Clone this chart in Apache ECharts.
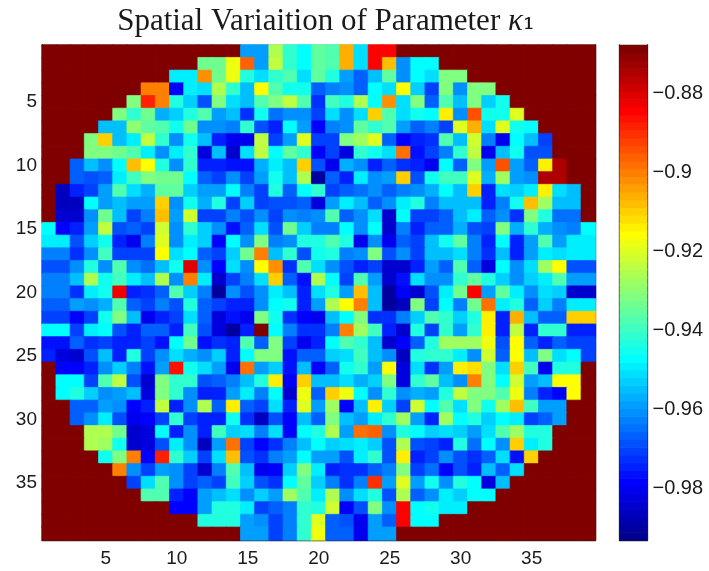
<!DOCTYPE html>
<html>
<head>
<meta charset="utf-8">
<script src="https://cdn.jsdelivr.net/npm/echarts@6/dist/echarts.min.js"></script>
<style>html,body{margin:0;padding:0;background:#fff}#c{width:709px;height:571px}</style>
</head>
<body>
<div id="c"></div>
<script>
// Cell values in thousandths of -1 (955 means -0.955), listed from the first column inside the disc.
const row01=[958,958,925,941,947,935,937,905,951,884,884];
const row02=[934,934,918,897,958,924,941,947,935,937,905,951,884,907,960,947,947];
const row03=[949,949,902,934,917,943,950,941,938,951,935,944,958,966,955,936,960,947,951,931,931];
const row04=[901,901,979,948,951,926,942,955,915,938,945,945,966,963,960,966,947,951,915,953,971,931,960,931,931];
const row05=[931,888,901,943,953,969,931,950,955,938,932,924,938,973,940,944,926,946,902,951,932,967,937,955,931,953,945];
const row06=[931,941,933,956,953,944,937,958,955,973,945,964,961,960,971,951,961,951,909,937,951,945,947,913,960,894,945,945,919];
const row07=[955,955,930,936,938,945,933,961,961,963,942,968,974,947,958,979,963,960,936,942,938,959,967,963,970,919,905,951,919,945,947];
const row08=[931,909,955,949,924,941,961,945,955,975,980,980,924,970,958,920,970,971,932,927,919,966,979,975,973,938,955,922,963,981,947,955,970];
const row09=[931,931,934,937,948,960,948,941,982,955,985,951,924,947,936,941,979,970,982,942,945,951,899,977,970,963,941,924,981,955,945,968,968];
const row10=[967,955,960,947,907,915,944,961,941,974,975,977,977,956,949,955,909,968,980,956,961,975,967,973,975,980,947,966,932,959,894,959,967,913,875];
const row11=[967,968,966,949,940,931,933,933,947,967,970,960,970,958,945,955,926,989,966,974,948,960,958,909,968,945,940,940,919,956,927,959,961,875,875];
const row12=[987,975,970,959,938,951,956,936,936,953,958,958,947,963,971,943,966,947,941,970,967,964,961,966,963,960,956,947,955,909,974,951,953,948,913,951,955];
const row13=[986,986,947,959,955,958,958,909,960,945,956,944,970,952,970,969,969,967,983,958,948,955,967,961,948,944,963,955,955,955,975,963,945,907,927,955,955];
const row14=[985,985,960,933,955,971,963,907,958,922,970,971,963,968,960,970,960,963,960,938,967,960,951,984,947,970,970,966,955,948,966,960,973,932,944,964,964];
const row15=[947,979,975,958,924,968,966,970,922,961,941,952,961,977,966,950,968,933,953,963,963,947,961,947,984,963,975,966,966,956,968,970,931,956,942,956,961,963,947];
const row16=[948,948,968,953,945,974,980,963,919,960,948,952,978,947,961,931,963,960,944,944,937,944,980,960,980,967,970,955,945,935,963,974,947,974,959,938,958,948,948];
const row17=[963,963,973,961,940,971,971,971,915,950,947,967,970,953,933,900,955,942,968,945,944,963,960,931,968,960,970,955,955,951,963,973,955,975,958,948,951,949,949];
const row18=[969,969,960,944,960,937,960,964,955,945,880,960,979,951,961,916,902,973,938,950,960,969,974,970,984,984,974,959,967,938,966,982,947,960,950,927,915,968,968];
const row19=[963,963,955,926,945,940,948,955,925,961,901,948,985,970,963,951,909,967,977,926,947,970,937,959,984,977,950,961,961,941,936,944,953,961,952,949,938,958,958];
const row20=[963,963,973,948,945,882,975,973,966,938,952,963,990,960,969,960,948,955,975,951,944,958,907,955,990,979,985,968,948,933,885,959,936,948,960,950,953,985,985];
const row21=[966,966,958,960,956,938,966,970,963,968,944,967,971,975,975,960,947,945,975,958,925,916,900,955,990,986,931,971,947,963,933,899,948,944,967,952,963,948,948];
const row22=[971,971,979,971,945,931,955,980,975,971,951,966,982,977,980,932,945,973,978,981,955,947,931,973,973,963,953,938,942,952,944,913,974,905,955,966,966,909,909];
const row23=[947,947,970,949,947,969,975,967,966,974,940,969,982,989,974,868,947,963,973,973,963,900,927,940,974,984,944,971,941,958,942,914,974,924,975,941,941,975,975];
const row24=[977,977,967,973,971,975,975,971,977,947,933,977,973,974,937,966,932,971,981,974,947,938,942,955,985,979,967,944,927,928,928,917,969,915,966,975,967,971,971];
const row25=[975,982,985,969,955,974,944,971,961,951,956,961,952,974,947,931,931,977,966,966,953,951,940,955,960,987,944,941,942,948,961,921,966,915,955,931,951,947,971];
const row26=[979,979,975,961,952,963,977,959,887,945,950,959,981,899,959,952,977,955,978,967,945,942,959,915,983,950,973,958,913,911,931,951,910,940,980,944,944];
const row27=[947,947,971,938,924,969,985,931,941,941,969,966,963,955,944,913,978,909,955,955,950,956,952,932,983,941,935,955,961,901,931,947,921,959,955,915,915];
const row28=[947,944,952,961,958,955,982,931,941,961,974,974,959,949,963,947,985,917,967,909,917,947,961,941,960,956,958,943,924,931,931,938,917,963,974,979,915];
const row29=[967,967,958,961,979,974,924,974,960,925,967,913,966,970,950,975,919,958,927,979,955,913,952,971,921,947,938,951,932,945,927,907,940,959,959];
const row30=[967,961,949,969,980,978,970,942,971,974,974,945,973,987,969,979,955,967,932,955,959,948,941,927,958,975,927,947,943,953,947,948,971,966,959];
const row31=[925,925,933,985,983,947,975,960,975,939,953,950,963,951,979,946,944,925,958,899,897,960,944,946,953,950,952,958,951,938,927,944,943];
const row32=[925,928,945,985,982,969,949,960,986,958,899,971,979,973,963,955,947,953,950,948,953,969,925,969,971,975,944,964,947,961,909,948,943];
const row33=[945,932,901,979,888,941,952,971,950,908,968,973,963,958,947,958,958,968,948,941,969,913,975,971,961,968,973,966,950,977,909];
const row34=[901,960,971,958,960,971,984,963,938,955,980,978,952,931,949,974,973,973,967,963,932,971,964,979,968,975,955,967,950];
const row35=[971,951,937,960,970,967,971,939,952,968,973,947,936,952,963,973,963,891,958,919,958,945,961,943,947,982,955];
const row36=[937,937,975,979,958,955,950,961,952,958,927,938,948,926,960,950,943,969,926,966,960,948,952,947,947];
const row37=[979,979,958,943,943,948,970,966,963,941,944,922,979,969,931,960,885,947,945,948,948];
const row38=[943,943,943,958,960,971,963,941,919,966,968,980,958,966,884,947,947];
const row39=[958,958,971,963,941,917,966,967,980,958,958];
const rows=[row01,row02,row03,row04,row05,row06,row07,row08,row09,row10,row11,row12,row13,row14,row15,row16,row17,row18,row19,row20,row21,row22,row23,row24,row25,row26,row27,row28,row29,row30,row31,row32,row33,row34,row35,row36,row37,row38,row39];
const rowStarts=[15,12,10,8,7,6,5,4,4,3,3,2,2,2,1,1,1,1,1,1,1,1,1,1,1,2,2,2,3,3,4,4,5,6,7,8,10,12,15];
const outsideValue=-0.8678, scaleMin=-0.9929, scaleMax=-0.8678;
const colorbarTicks=[-0.98,-0.96,-0.94,-0.92,-0.9,-0.88];
const gridSize=39;

function jet(n){
  const out=[];
  const ch=v=>Math.round(255*Math.max(0,Math.min(1,v)));
  for(let i=0;i<n;i++){
    const t=(i+1)/n;
    const r=Math.min(4*t-1.5,-4*t+4.5), g=Math.min(4*t-0.5,-4*t+3.5), b=Math.min(4*t+0.5,-4*t+2.5);
    out.push('rgb('+ch(r)+','+ch(g)+','+ch(b)+')');
  }
  return out;
}
const palette=jet(64);
const colorOf=v=>palette[Math.max(0,Math.min(63,Math.floor((v-scaleMin)/(scaleMax-scaleMin)*64)))];
const categories=[];for(let i=1;i<=gridSize;i++)categories.push(String(i));

const cells=[];
rows.forEach((row,r)=>{
  for(let c=0;c<gridSize;c++){
    const k=c+1-rowStarts[r];
    const v=(k>=0&&k<row.length)?-row[k]/1000:outsideValue;
    const col=colorOf(v);
    cells.push({value:[c,r,v],itemStyle:{color:col,borderColor:col,borderWidth:0.7}});
  }
});
const barSteps=palette.map((col,i)=>[
  scaleMin+(scaleMax-scaleMin)*i/64,
  scaleMin+(scaleMax-scaleMin)*(i+1)/64,
  i]);

const labelFont={fontFamily:'"Liberation Sans",Arial,sans-serif',fontSize:19,color:'#1a1a1a'};
const lineStyle={color:'#222',width:1.3};
const isFifth=i=>(i+1)%5===0;
function catAxis(extra){
  return Object.assign({
    type:'category',data:categories,gridIndex:0,
    axisLine:{show:true,onZero:false,lineStyle},
    axisTick:{show:true,inside:true,length:5,alignWithLabel:true,interval:isFifth,lineStyle},
    axisLabel:{show:false},splitLine:{show:false},splitArea:{show:false}
  },extra);
}
const chart=echarts.init(document.getElementById('c'),null,{renderer:'canvas'});
chart.setOption({
  animation:false,
  backgroundColor:'#fff',
  title:{
    text:'{a|Spatial Variaition of Parameter }{k|κ}{s|₁}',
    left:321,top:1,textAlign:'center',
    textStyle:{fontWeight:'normal',rich:{
      a:{fontFamily:'"Liberation Serif",serif',fontSize:31,fontWeight:'normal',color:'#1a1a1a'},
      k:{fontFamily:'"Liberation Serif",serif',fontSize:31,fontStyle:'italic',fontWeight:'normal',color:'#1a1a1a'},
      s:{fontFamily:'"DejaVu Serif",serif',fontSize:30,fontWeight:'normal',color:'#1a1a1a'}
    }}
  },
  grid:[
    {left:42,top:45,width:553.5,height:495,containLabel:false},
    {left:619.5,top:45,width:28,height:495,containLabel:false}
  ],
  xAxis:[
    catAxis({position:'bottom',axisLabel:Object.assign({show:true,interval:isFifth,margin:9},labelFont)}),
    catAxis({position:'top'}),
    {type:'value',gridIndex:1,min:0,max:1,axisLine:{show:true,onZero:false,lineStyle},axisTick:{show:false},axisLabel:{show:false},splitLine:{show:false},position:'bottom'},
    {type:'value',gridIndex:1,min:0,max:1,axisLine:{show:true,onZero:false,lineStyle},axisTick:{show:false},axisLabel:{show:false},splitLine:{show:false},position:'top'}
  ],
  yAxis:[
    catAxis({position:'left',inverse:true,axisLabel:Object.assign({show:true,interval:isFifth,margin:5,padding:[5,0,0,0]},labelFont)}),
    catAxis({position:'right',inverse:true}),
    {type:'value',gridIndex:1,min:scaleMin,max:scaleMax,position:'right',
      axisLine:{show:true,onZero:false,lineStyle},
      axisTick:{show:true,inside:true,length:4,customValues:colorbarTicks,lineStyle},
      axisLabel:Object.assign({},labelFont,{show:true,margin:5,fontSize:20,padding:[5,0,0,0],customValues:colorbarTicks,
        formatter:v=>'\u2212'+String(Math.abs(+(+v).toFixed(2)))}),
      splitLine:{show:false}},
    {type:'value',gridIndex:1,min:scaleMin,max:scaleMax,position:'left',
      axisLine:{show:true,onZero:false,lineStyle},
      axisTick:{show:true,inside:true,length:4,customValues:colorbarTicks,lineStyle},
      axisLabel:{show:false},splitLine:{show:false}}
  ],
  series:[
    {type:'heatmap',xAxisIndex:0,yAxisIndex:0,data:cells,progressive:0,emphasis:{disabled:true},z:1},
    {type:'custom',xAxisIndex:2,yAxisIndex:2,data:barSteps,z:1,silent:true,
      encode:{y:[0,1]},
      renderItem:(params,api)=>{
        const a=api.coord([0,api.value(0)]), b=api.coord([1,api.value(1)]);
        return {type:'rect',shape:{x:a[0],y:b[1],width:b[0]-a[0],height:a[1]-b[1]+0.6},
          style:{fill:palette[api.value(2)]}};
      }}
  ]
});
</script>
</body>
</html>
